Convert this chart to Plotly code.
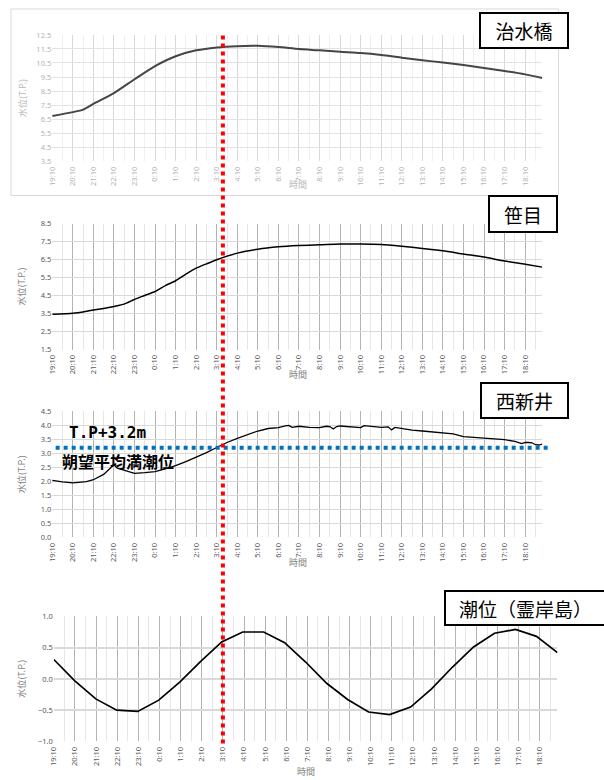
import numpy as np
import plotly.graph_objects as go

# ---------------- data ----------------
hour_labels = ["19:10", "20:10", "21:10", "22:10", "23:10", "0:10", "1:10", "2:10",
               "3:10", "4:10", "5:10", "6:10", "7:10", "8:10", "9:10", "10:10",
               "11:10", "12:10", "13:10", "14:10", "15:10", "16:10", "17:10", "18:10"]

# 治水橋 water level (T.P. m)
jisui_times = ["19:10", "20:10", "20:40", "21:10", "22:10", "23:10", "0:10", "1:10", "2:10",
               "3:10", "4:10", "5:10", "6:10", "7:10", "8:10", "9:10", "10:10", "11:10",
               "12:10", "13:10", "14:10", "15:10", "16:10", "17:10", "18:10", "19:00"]
jisui_level = [6.72, 7.00, 7.18, 7.59, 8.36, 9.34, 10.28, 10.98, 11.40,
               11.61, 11.70, 11.72, 11.63, 11.49, 11.40, 11.30, 11.21, 11.07,
               10.88, 10.70, 10.53, 10.35, 10.14, 9.93, 9.69, 9.43]

# 笹目 water level (T.P. m)
sasame_times = ["19:10", "20:10", "20:40", "21:10", "21:40", "22:10", "22:40", "23:10",
                "23:40", "0:10", "0:40", "1:10", "1:40", "2:10", "2:40", "3:10", "4:10",
                "5:10", "6:10", "7:10", "8:10", "9:10", "10:10", "11:10", "12:10",
                "13:10", "14:10", "15:10", "16:10", "17:10", "18:10", "19:00"]
sasame_level = [3.46, 3.52, 3.59, 3.70, 3.79, 3.90, 4.03, 4.29,
                4.51, 4.73, 5.06, 5.33, 5.70, 6.03, 6.27, 6.50, 6.87,
                7.09, 7.22, 7.29, 7.33, 7.38, 7.38, 7.35, 7.25,
                7.13, 7.00, 6.82, 6.65, 6.43, 6.25, 6.09]

# 西新井 water level (T.P. m)
nishiarai_times = ["19:10", "19:40", "20:10", "20:50", "21:10", "21:40", "22:00", "22:10",
                   "22:20", "22:30", "22:50", "23:10", "23:40", "0:10", "0:40", "1:10",
                   "1:40", "2:10", "2:40", "3:10", "3:40", "4:10", "4:40", "5:10", "5:40",
                   "6:10", "6:30", "6:40", "6:50", "7:00", "7:10", "7:40", "8:10", "8:30",
                   "8:40", "8:50", "9:00", "9:10", "9:40", "10:10", "10:20", "10:30",
                   "11:10", "11:30", "11:40", "11:50", "12:10", "12:40", "13:10", "13:40",
                   "14:10", "14:40", "15:10", "15:40", "16:10", "16:40", "17:10", "17:40",
                   "18:00", "18:10", "18:20", "18:30", "18:40", "18:50", "19:00"]
nishiarai_level = [2.04, 1.98, 1.95, 1.99, 2.06, 2.25, 2.48, 2.59,
                   2.47, 2.43, 2.35, 2.29, 2.31, 2.35, 2.45, 2.56,
                   2.71, 2.86, 3.03, 3.21, 3.39, 3.54, 3.67, 3.80, 3.89,
                   3.92, 3.98, 4.00, 3.93, 3.95, 3.97, 3.93, 3.92, 3.97,
                   3.96, 3.87, 3.96, 3.98, 3.94, 3.92, 3.99, 3.98,
                   3.93, 3.95, 3.84, 3.93, 3.88, 3.83, 3.80, 3.77,
                   3.73, 3.70, 3.60, 3.58, 3.56, 3.52, 3.49, 3.43,
                   3.35, 3.39, 3.39, 3.38, 3.31, 3.30, 3.33]

# 潮位（霊岸島） hourly tide level (T.P. m)
tide_level = [0.31, -0.03, -0.32, -0.50, -0.52, -0.34, -0.05, 0.28, 0.59, 0.75, 0.75, 0.58,
              0.27, -0.07, -0.33, -0.53, -0.57, -0.45, -0.16, 0.19, 0.51, 0.73, 0.79, 0.68, 0.42]

mean_high_water = 3.2      # 朔望平均満潮位
marker_time = "3:10"

# ---------------- helpers ----------------
W, H = 604, 780
START_MIN = 19 * 60 + 10
N_SLOTS = 143   # 10-minute slots from 19:10 to 19:00


def slot(t):
    h, m = map(int, t.split(":"))
    return ((h * 60 + m - START_MIN) % 1440) / 10


def px_x(p):
    return p / W


def px_y(p):
    return 1 - p / H


major_vals = [slot(t) for t in hour_labels]
minor_vals = [v + 3 for v in major_vals]

# plot areas in pixels: (left, right, top, bottom)
areas = [
    (46.7, 541.7, 30.3, 158.3),
    (46.7, 541.7, 221.7, 349.0),
    (46.7, 541.7, 411.7, 539.3),
    (48.3, 557.0, 619.3, 746.0),
]
yranges = [(3.5, 12.5, 1.0), (1.5, 8.5, 1.0), (0.0, 4.5, 0.5), (-1.0, 1.0, 0.5)]

TICK_FONT = "Noto Sans, Noto Sans CJK JP, sans-serif"
JP_FONT = "Noto Sans CJK JP, sans-serif"

fig = go.Figure()

series = [
    ([slot(t) for t in jisui_times], jisui_level, "#454545", 2.0),
    ([slot(t) for t in sasame_times], sasame_level, "#000000", 1.5),
    ([slot(t) for t in nishiarai_times], nishiarai_level, "#000000", 1.3),
    (list(np.linspace(0, N_SLOTS, len(tide_level))), tide_level, "#000000", 1.7),
]

for i, (xs, ys, col, lw) in enumerate(series):
    n = "" if i == 0 else str(i + 1)
    fig.add_trace(go.Scatter(
        x=xs, y=ys, mode="lines", xaxis="x" + n, yaxis="y" + n,
        line=dict(color=col, width=lw, shape="spline" if i < 2 else "linear", smoothing=0.6),
        showlegend=False, hoverinfo="skip"))

layout_axes = {}
for i, ((l, r, t, b), (y0, y1, dy)) in enumerate(zip(areas, yranges)):
    n = "" if i == 0 else str(i + 1)
    faded = i == 0
    lab_col = "#b3b3b3" if faded else "#595959"
    major_col = "#d9d9d9" if faded else "#b3b3b3"
    minor_col = "#efefef" if faded else "#e6e6e6"
    hgrid_col = "#e3e3e3" if faded else "#d9d9d9"
    layout_axes["xaxis" + n] = dict(
        domain=[px_x(l), px_x(r)], range=[0, N_SLOTS], anchor="y" + n,
        tickmode="array", tickvals=major_vals, ticktext=hour_labels,
        tickangle=-90, tickfont=dict(size=7.5, color=lab_col, family=TICK_FONT),
        ticklabelstandoff=3,
        showgrid=True, gridcolor=major_col, gridwidth=1,
        minor=dict(tickmode="array", tickvals=minor_vals, showgrid=True,
                   gridcolor=minor_col, gridwidth=1),
        zeroline=False, showline=False, ticks="", fixedrange=True)
    layout_axes["yaxis" + n] = dict(
        domain=[px_y(b), px_y(t)], range=[y0, y1], anchor="x" + n,
        tickmode="linear", tick0=y0, dtick=dy, tickformat=".1f",
        tickfont=dict(size=7.5, color=lab_col, family=TICK_FONT),
        showgrid=True, gridcolor=hgrid_col, gridwidth=1.6 if i == 3 else 1,
        zeroline=False, showline=False, ticks="", fixedrange=True)

fig.update_layout(**layout_axes)

annotations = []
# axis titles
title_y = [182, 374, 565, 776]
title_x = [295, 295, 295, 303]
for i, (l, r, t, b) in enumerate(areas):
    faded = i == 0
    col = "#b8b8b8" if faded else "#7f7f7f"
    annotations.append(dict(
        text="水位(T.P.)", x=px_x(16), y=px_y((t + b) / 2), xref="paper", yref="paper",
        textangle=-90, showarrow=False, font=dict(size=9, color=col, family=JP_FONT),
        xanchor="center", yanchor="middle"))
    annotations.append(dict(
        text="時間", x=px_x(title_x[i]), y=px_y(title_y[i]), xref="paper", yref="paper",
        showarrow=False, font=dict(size=9, color=col, family=JP_FONT),
        xanchor="center", yanchor="middle"))

# station name boxes: (text, centre x, centre y, width, height)
boxes = [
    ("治水橋", 523, 25.5, 90, 37),
    ("笹目", 522, 212, 70, 38),
    ("西新井", 523.5, 400.5, 89, 37),
    ("潮位（霊岸島）", 524.5, 611, 163, 36),
]
for txt, cx, cy, bw, bh in boxes:
    annotations.append(dict(
        text=txt, x=px_x(cx), y=px_y(cy), xref="paper", yref="paper", showarrow=False,
        xanchor="center", yanchor="middle", width=bw - 4, height=bh - 4, borderpad=0,
        bordercolor="#000000", borderwidth=2, bgcolor="#ffffff",
        font=dict(size=19, color="#000000", family=JP_FONT)))

# mean high water labels
annotations.append(dict(
    text="<b>T.P+3.2m</b>", x=px_x(62), y=px_y(433.5), xref="paper", yref="paper",
    showarrow=False, xanchor="left", yanchor="middle",
    font=dict(size=16, color="#000000", family="DejaVu Sans Mono, monospace")))
annotations.append(dict(
    text="<b>朔望平均満潮位</b>", x=px_x(55), y=px_y(461.5), xref="paper", yref="paper",
    showarrow=False, xanchor="left", yanchor="middle",
    font=dict(size=16, color="#000000", family=JP_FONT)))

shapes = [
    # frame around the first chart
    dict(type="rect", xref="paper", yref="paper", x0=px_x(5), x1=px_x(558),
         y0=px_y(193), y1=px_y(4), line=dict(color="#d9d9d9", width=1), layer="below"),
    # mean high water line
    dict(type="line", xref="x3 domain", yref="y3", x0=0.007, x1=1.017,
         y0=mean_high_water, y1=mean_high_water,
         line=dict(color="#0070c0", width=4, dash="4px,4px")),
    # time marker across all charts
    dict(type="line", xref="x4", yref="paper", x0=slot(marker_time), x1=slot(marker_time),
         y0=px_y(748), y1=px_y(31), line=dict(color="#ff0000", width=4, dash="4px,4px")),
]

fig.update_layout(
    width=W, height=H, margin=dict(l=0, r=0, t=0, b=0),
    paper_bgcolor="#ffffff", plot_bgcolor="#ffffff",
    annotations=annotations, shapes=shapes, showlegend=False)

fig.write_html("out.html", config={"displayModeBar": False})
